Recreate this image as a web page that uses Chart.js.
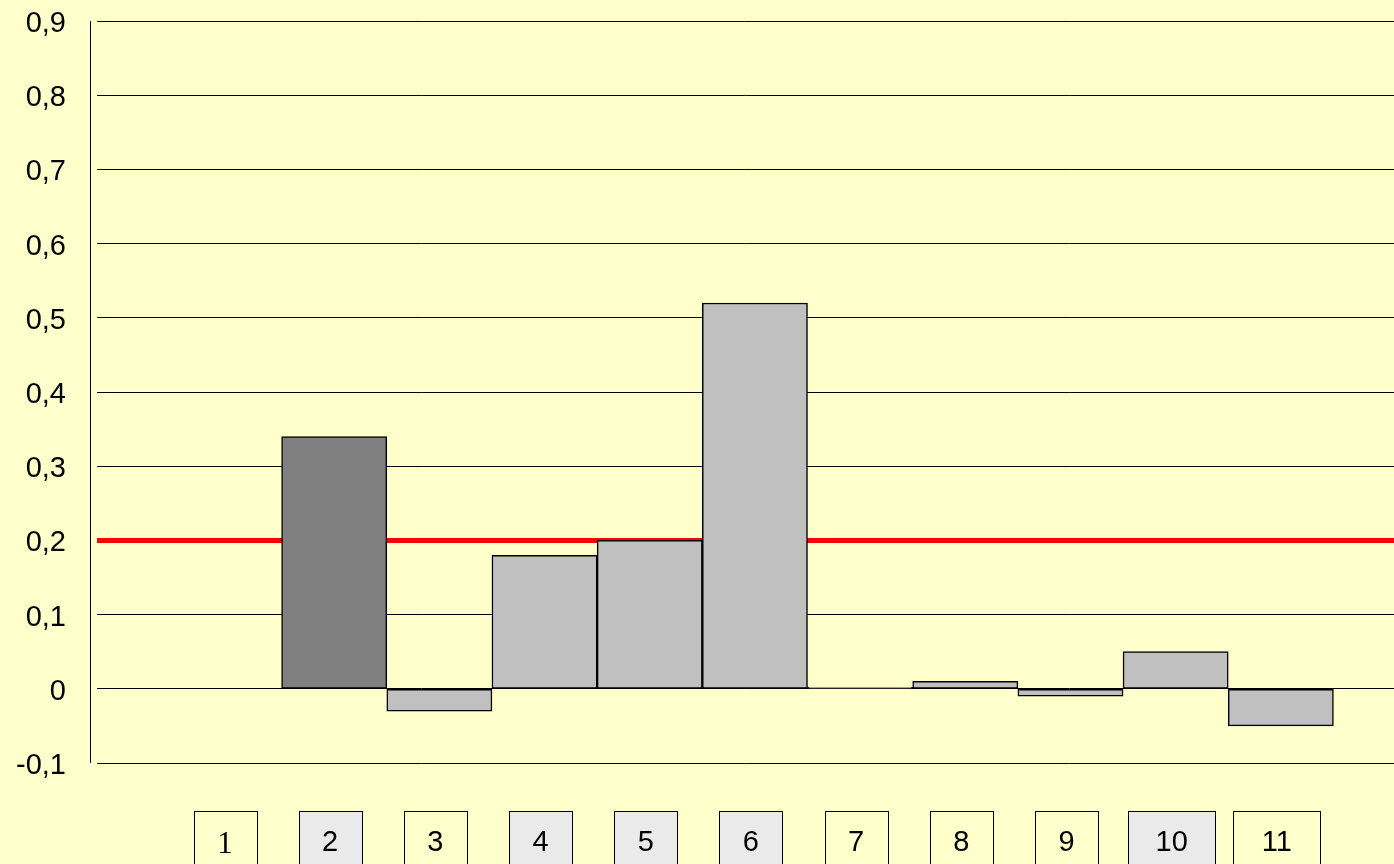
<!DOCTYPE html>
<html>
<head>
<meta charset="utf-8">
<script src="https://cdn.jsdelivr.net/npm/chart.js@4.4.1/dist/chart.umd.min.js"></script>
<style>
  html, body { margin: 0; padding: 0; background: #ffffcc; overflow: hidden; }
  canvas { display: block; }
</style>
</head>
<body>
<canvas id="chart" width="1394" height="864"></canvas>
<script>
// data
const categories = ['1', '2', '3', '4', '5', '6', '7', '8', '9', '10', '11'];
const values = [null, 0.34, -0.03, 0.18, 0.20, 0.52, 0.002, 0.01, -0.01, 0.05, -0.05];
const threshold = 0.2;
const yTickValues = [-0.1, 0, 0.1, 0.2, 0.3, 0.4, 0.5, 0.6, 0.7, 0.8, 0.9];
const yTickLabels = ['-0,1', '0', '0,1', '0,2', '0,3', '0,4', '0,5', '0,6', '0,7', '0,8', '0,9'];

// styles
const barColors = ['#c0c0c0', '#808080', '#c0c0c0', '#c0c0c0', '#c0c0c0', '#c0c0c0',
                   '#c0c0c0', '#c0c0c0', '#c0c0c0', '#c0c0c0', '#c0c0c0'];
const boxFills = ['#ffffcc', '#eaeaea', '#ffffcc', '#eaeaea', '#eaeaea', '#eaeaea',
                  '#ffffcc', '#ffffcc', '#ffffcc', '#eaeaea', '#ffffcc'];

// x range of the plot, in category units (plot is wider than the bars)
const X_MIN = -0.255;
const X_MAX = 12.076;
const LABEL_SHIFT = -4;

Chart.defaults.font.family = "'Liberation Sans', Arial, sans-serif";
Chart.defaults.color = '#000';

// boxes behind the category labels
const labelBoxes = {
  id: 'labelBoxes',
  beforeDraw(chart) {
    const ctx = chart.ctx;
    const xs = chart.scales.x;
    const top = Math.round(xs.top + 48) + 0.5;
    ctx.save();
    ctx.lineWidth = 1;
    ctx.strokeStyle = '#000';
    xs.ticks.forEach((t, i) => {
      const w = categories[i].length > 1 ? 87 : 63;
      const cx = xs.getPixelForTick(i) + LABEL_SHIFT;
      const left = Math.round(cx - w / 2) + 0.5;
      ctx.fillStyle = boxFills[i];
      ctx.fillRect(left, top, w, 80);
      ctx.strokeRect(left, top, w, 80);
    });
    ctx.restore();
  }
};

// vertical axis line, set a little left of the grid
const axisLine = {
  id: 'axisLine',
  beforeDatasetsDraw(chart) {
    const ctx = chart.ctx;
    const ys = chart.scales.y;
    const x = Math.round(chart.chartArea.left - 7) + 0.5;
    ctx.save();
    ctx.strokeStyle = '#000';
    ctx.lineWidth = 1;
    ctx.beginPath();
    ctx.moveTo(x, ys.top);
    ctx.lineTo(x, ys.bottom);
    ctx.stroke();
    ctx.restore();
  }
};

new Chart(document.getElementById('chart'), {
  type: 'bar',
  data: {
    labels: categories,
    datasets: [
      {
        type: 'bar',
        data: values,
        backgroundColor: barColors,
        borderColor: '#000',
        borderWidth: 1.5,
        borderSkipped: false,
        barPercentage: 1,
        categoryPercentage: 1,
        order: 0
      },
      {
        type: 'line',
        data: [{ x: X_MIN, y: threshold }, { x: X_MAX, y: threshold }],
        borderColor: '#ff0000',
        borderWidth: 5,
        pointRadius: 0,
        fill: false,
        order: 1
      }
    ]
  },
  options: {
    responsive: false,
    animation: false,
    layout: { padding: { top: 21, right: 0, bottom: 0, left: 0 } },
    plugins: {
      legend: { display: false },
      tooltip: { enabled: false }
    },
    scales: {
      x: {
        type: 'linear',
        min: X_MIN,
        max: X_MAX,
        offset: false,
        // tick marks are hidden, their length only pushes the labels down
        grid: { display: false, drawTicks: true, tickLength: 63 },
        border: { display: false },
        afterBuildTicks: (axis) => {
          axis.ticks = categories.map(c => ({ value: +c }));
        },
        afterFit: (axis) => { axis.height = 101; },
        ticks: {
          autoSkip: false,
          maxRotation: 0,
          padding: 0,
          labelOffset: LABEL_SHIFT,
          color: '#000',
          font: (ctx) => ctx.index === 0
            ? { family: "'Liberation Serif', 'Times New Roman', serif", size: 31 }
            : { size: 29 },
          callback: (v, i) => categories[i]
        }
      },
      y: {
        min: -0.1,
        max: 0.9,
        grid: { color: '#000', lineWidth: 1, drawTicks: true, tickLength: 31, tickColor: 'rgba(0,0,0,0)' },
        border: { display: false },
        afterBuildTicks: (axis) => {
          axis.ticks = yTickValues.map(v => ({ value: v }));
        },
        afterFit: (axis) => { axis.width = 97; },
        ticks: {
          padding: 0,
          labelOffset: 3,
          color: '#000',
          font: { size: 29 },
          callback: (v, i) => yTickLabels[i]
        }
      }
    }
  },
  plugins: [labelBoxes, axisLine]
});
</script>
</body>
</html>
